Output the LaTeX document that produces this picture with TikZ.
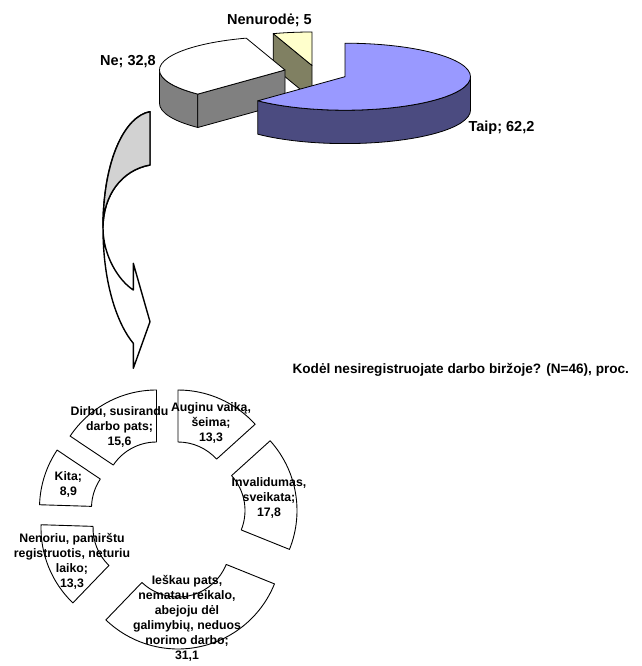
\documentclass[tikz,border=0pt]{standalone}
\usepackage{fontspec}
\setmainfont{Liberation Sans}
\usetikzlibrary{calc}

\definecolor{taiptop}{HTML}{9999FF}
\definecolor{taipside}{HTML}{4B4B80}
\definecolor{neside}{HTML}{808080}
\definecolor{nenutop}{HTML}{FFFFCC}
\definecolor{nenuside}{HTML}{808062}
\definecolor{arrowgray}{HTML}{D2D2D2}

\begin{document}
\begin{tikzpicture}[x=1pt,y=1pt,line join=round,
                    pie line/.style={draw=black,line width=0.8pt},
                    arrow line/.style={draw=black,line width=1.4pt},
                    ring slice/.style={draw=black,fill=white,line width=0.9pt},
                    pie label/.style={font=\fontsize{14.5}{17}\selectfont\bfseries,inner sep=0pt},
                    ring label/.style={font=\fontsize{12.3}{15}\selectfont\bfseries,align=center,inner sep=0pt}]
  \useasboundingbox (0,0) rectangle (641,-666);

  % upper 3D pie
  \coordinate (nenu) at (312,-65.5);
  \coordinate (ne) at (285,-70);
  \coordinate (taip) at (345,-76.7);

  \filldraw[pie line,fill=nenuside] (nenu) -- ++(108:125.5 and 33.5) -- ++(0,-33.4) -- ($(nenu)+(0,-33.4)$) -- cycle;
  \filldraw[pie line,fill=nenutop] (nenu) -- ++(108:125.5 and 33.5) arc[start angle=108,end angle=90,x radius=125.5,y radius=33.5] -- cycle;

  \filldraw[pie line,fill=neside] (ne) ++(180:125.5 and 33.5) arc[start angle=180,end angle=226,x radius=125.5,y radius=33.5] -- ++(0,-33.4) arc[start angle=226,end angle=180,x radius=125.5,y radius=33.5] -- cycle;
  \filldraw[pie line,fill=neside] (ne) -- ++(226:125.5 and 33.5) -- ++(0,-33.4) -- ($(ne)+(0,-33.4)$) -- cycle;
  \filldraw[pie line,fill=white] (ne) -- ++(108:125.5 and 33.5) arc[start angle=108,end angle=226,x radius=125.5,y radius=33.5] -- cycle;

  \filldraw[pie line,fill=taipside] (taip) ++(0:125.5 and 33.5) arc[start angle=0,end angle=-134,x radius=125.5,y radius=33.5] -- ++(0,-33.4) arc[start angle=-134,end angle=0,x radius=125.5,y radius=33.5] -- cycle;
  \filldraw[pie line,fill=taiptop] (taip) -- ++(90:125.5 and 33.5) arc[start angle=90,end angle=-134,x radius=125.5,y radius=33.5] -- cycle;

  \node[pie label] (nenurode) at (269.5,-20) {Nenurodė; 5};
  \node[pie label] (ne label) at (128,-61.7) {Ne; 32,8};
  \node[pie label] (taip label) at (501.5,-128) {Taip; 62,2};

  % twisted arrow
  \filldraw[arrow line,fill=white] (150,-111.7) .. controls (125,-116) and (103,-160) .. (103,-228)
        .. controls (103,-285) and (118,-325) .. (133.3,-343.3) -- (133.3,-368.3) -- (150,-321.7)
        -- (133.3,-263.3) -- (133.3,-290) .. controls (118,-280) and (103,-255) .. (103,-228)
        .. controls (103,-195) and (122,-170) .. (150,-165) -- cycle;
  \filldraw[arrow line,fill=arrowgray] (150,-111.7) .. controls (125,-116) and (103,-160) .. (103,-228)
        .. controls (103,-195) and (122,-170) .. (150,-165) -- cycle;

  \node[font=\fontsize{13.6}{16}\selectfont\bfseries,inner sep=0pt] (title) at (460.8,-370) {Kodėl nesiregistruojate darbo biržoje? (N=46), proc.};

  % exploded ring
  \draw[ring slice] (178,-494) ++(90:104) arc[start angle=90,end angle=42.12,radius=104] -- ++(222.12:52) arc[start angle=42.12,end angle=90,radius=52] -- cycle;
  \draw[ring slice] (193,-510.5) ++(42.12:104) arc[start angle=42.12,end angle=-21.96,radius=104] -- ++(158.04:52) arc[start angle=-21.96,end angle=42.12,radius=52] -- cycle;
  \draw[ring slice] (178,-545) ++(-21.96:104) arc[start angle=-21.96,end angle=-133.92,radius=104] -- ++(46.08:52) arc[start angle=-133.92,end angle=-21.96,radius=52] -- cycle;
  \draw[ring slice] (145,-528) ++(-133.92:104) arc[start angle=-133.92,end angle=-181.8,radius=104] -- ++(-1.8:52) arc[start angle=-181.8,end angle=-133.92,radius=52] -- cycle;
  \draw[ring slice] (143.5,-508) ++(-181.8:104) arc[start angle=-181.8,end angle=-213.84,radius=104] -- ++(-33.84:52) arc[start angle=-213.84,end angle=-181.8,radius=52] -- cycle;
  \draw[ring slice] (156.5,-494) ++(-213.84:104) arc[start angle=-213.84,end angle=-270,radius=104] -- ++(-90:52) arc[start angle=-270,end angle=-213.84,radius=52] -- cycle;

  \node[ring label] (dirbu) at (119.5,-426.7) {Dirbu, susirandu\\darbo pats;\\15,6};
  \node[ring label] (auginu) at (211,-422.5) {Auginu vaiką,\\šeima;\\13,3};
  \node[ring label] (kita) at (68.3,-484.5) {Kita;\\8,9};
  \node[ring label] (invalidumas) at (269,-498.3) {Invalidumas,\\sveikata;\\17,8};
  \node[ring label] (nenoriu) at (72,-561) {Nenoriu, pamirštu\\registruotis, neturiu\\laiko;\\13,3};
  \node[ring label] (ieskau) at (187,-618) {Ieškau pats,\\nematau reikalo,\\abejoju dėl\\galimybių, neduos\\norimo darbo;\\31,1};
\end{tikzpicture}
\end{document}
